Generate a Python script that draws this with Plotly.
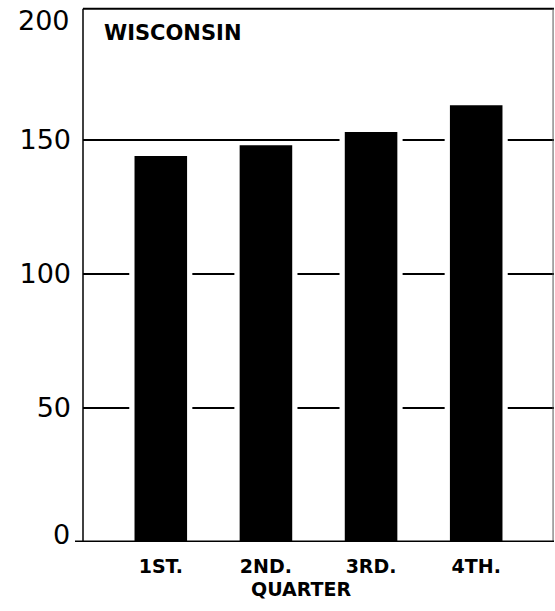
import plotly.graph_objects as go

quarters = ["1ST.", "2ND.", "3RD.", "4TH."]
values = [144, 148, 153, 163]
y_ticks = [50, 100, 150]
y_tick_text = ["50", "100", "150"]
state_label = "WISCONSIN"
x_title = "QUARTER"

fig = go.Figure()
# white halo bars (break gridlines beside bars)
fig.add_trace(go.Bar(x=quarters, y=values, width=0.6, marker=dict(color="white", line=dict(width=0)),
                     hoverinfo="skip", showlegend=False))
fig.add_trace(go.Bar(x=quarters, y=values, width=0.5, marker=dict(color="black", line=dict(width=0)),
                     showlegend=False))

fig.update_layout(
    width=555, height=611,
    margin=dict(l=83, r=1, t=6, b=69),
    paper_bgcolor="white", plot_bgcolor="white",
    barmode="overlay",
    xaxis=dict(range=[-0.74, 3.74], showgrid=False, zeroline=False, showline=False, ticks="",
               tickfont=dict(family="DejaVu Sans", size=19, color="black", weight="bold"),
               ticklabelstandoff=11),
    yaxis=dict(range=[0, 200], tickvals=y_ticks, ticktext=y_tick_text, showgrid=True,
               gridcolor="black", gridwidth=2, zeroline=False, showline=False, ticks="",
               tickfont=dict(family="DejaVu Sans", size=27, color="black"),
               ticklabelstandoff=11),
    font=dict(family="DejaVu Sans", color="black"),
)

# frame
fig.add_shape(type="line", xref="paper", yref="paper", x0=0, x1=0, y0=0, y1=0.995,
              line=dict(color="black", width=1.5))
fig.add_shape(type="line", xref="paper", yref="paper", x0=0, x1=1, y0=0.995, y1=0.995,
              line=dict(color="black", width=2))
fig.add_shape(type="line", xref="paper", yref="paper", x0=0.998, x1=0.998, y0=0, y1=0.995,
              line=dict(color="#555", width=1))
# baseline
fig.add_shape(type="line", xref="paper", yref="y", x0=-8/471, x1=1, y0=0, y1=0,
              line=dict(color="black", width=3))

# y labels for 0 and 200
fig.add_annotation(x=0, xref="paper", y=200, yref="y", text="200", showarrow=False,
                   xanchor="right", xshift=-11, yshift=-14, font=dict(size=27, family="DejaVu Sans"))
fig.add_annotation(x=0, xref="paper", y=0, yref="y", text="0", showarrow=False,
                   xanchor="right", xshift=-11, yshift=8, font=dict(size=27, family="DejaVu Sans"))

# state label
fig.add_annotation(x=19/471, xref="paper", y=1 - (33 - 6) / 536, yref="paper", yanchor="middle",
                   text=state_label, showarrow=False, xanchor="left",
                   font=dict(size=21, family="DejaVu Sans", weight="bold"))

# x title
fig.add_annotation(x=(301 - 83) / 471, xref="paper", y=-(589 - 542) / 536, yref="paper",
                   text=x_title, showarrow=False, xanchor="center", yanchor="middle",
                   font=dict(size=19, family="DejaVu Sans", weight="bold"))

fig.write_html("out.html", config={"displayModeBar": False},
               post_script="document.body.style.margin='0';")
